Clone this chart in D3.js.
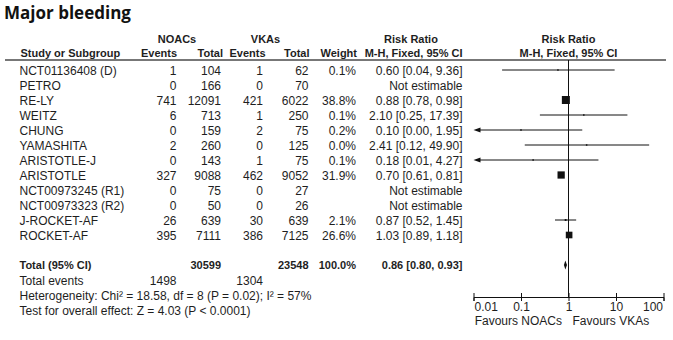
<!DOCTYPE html>
<html>
<head>
<meta charset="utf-8">
<script src="https://cdn.jsdelivr.net/npm/d3@7"></script>
<style>
    body { margin: 0; background: #fff; }
    svg text { font-family: "Liberation Sans", Arial, sans-serif; font-size: 12px; fill: #1e1e1e; }
    .bold { font-weight: bold; font-size: 11px; }
    .title { font-family: "Open Sans", sans-serif; font-size: 17px; font-weight: bold; fill: #111; }
</style>
</head>
<body>
<div id="forest"></div>
<script>
// study level data, NOACs vs VKAs, major bleeding
const studies = ["NCT01136408 (D)", "PETRO", "RE-LY", "WEITZ", "CHUNG", "YAMASHITA",
    "ARISTOTLE-J", "ARISTOTLE", "NCT00973245 (R1)", "NCT00973323 (R2)", "J-ROCKET-AF", "ROCKET-AF"];
const noacEvents = [1, 0, 741, 6, 0, 2, 0, 327, 0, 0, 26, 395];
const noacTotals = [104, 166, 12091, 713, 159, 260, 143, 9088, 75, 50, 639, 7111];
const vkaEvents = [1, 0, 421, 1, 2, 0, 1, 462, 0, 0, 30, 386];
const vkaTotals = [62, 70, 6022, 250, 75, 125, 75, 9052, 27, 26, 639, 7125];
const weights = [0.1, null, 38.8, 0.1, 0.2, 0.0, 0.1, 31.9, null, null, 2.1, 26.6];
const ratios = [0.60, null, 0.88, 2.10, 0.10, 2.41, 0.18, 0.70, null, null, 0.87, 1.03];
const lower = [0.04, null, 0.78, 0.25, 0.00, 0.12, 0.01, 0.61, null, null, 0.52, 0.89];
const upper = [9.36, null, 0.98, 17.39, 1.95, 49.90, 4.27, 0.81, null, null, 1.45, 1.18];

// pooled result
const totalNoac = 30599, totalVka = 23548;
const eventsNoac = 1498, eventsVka = 1304;
const pooled = {rr: 0.86, lo: 0.80, hi: 0.93, weight: 100.0};

const axisTicks = [0.01, 0.1, 1, 10, 100];
const tickLabels = ["0.01", "0.1", "1", "10", "100"];

const width = 673, height = 340;
const rowTop = 70.5, rowStep = 15;
const rowY = i => rowTop + i * rowStep;
const axisY = 297;

// right edges of the numeric columns
const col = {name: 19.5, nEv: 176.5, nTot: 221, vEv: 263, vTot: 308.5, weight: 356, rr: 462.5};

const fmt2 = d3.format(".2f");
const fmt1 = d3.format(".1f");

const svg = d3.select("#forest")
    .append("svg")
        .attr("width", width)
        .attr("height", height);

function label(x, y, txt, anchor, cls) {
    return svg.append("text")
        .attr("x", x)
        .attr("y", y)
        .attr("dy", "0.36em")
        .attr("text-anchor", anchor || "end")
        .attr("class", cls || null)
        .text(txt);
}

svg.append("text")
    .attr("class", "title")
    .attr("x", 4)
    .attr("y", 18.5)
    .text("Major bleeding");

// column headers
label(177, 39, "NOACs", "middle", "bold");
label(265.5, 39, "VKAs", "middle", "bold");
label(411, 39, "Risk Ratio", "middle", "bold");
label(568.5, 39, "Risk Ratio", "middle", "bold");

label(col.name + 1, 53, "Study or Subgroup", "start", "bold");
label(col.nEv + 0.5, 53, "Events", "end", "bold");
label(col.nTot + 2, 53, "Total", "end", "bold");
label(col.vEv + 2.5, 53, "Events", "end", "bold");
label(col.vTot + 1, 53, "Total", "end", "bold");
label(col.weight + 1, 53, "Weight", "end", "bold");
label(col.rr, 53, "M-H, Fixed, 95% CI", "end", "bold");
label(568.5, 53, "M-H, Fixed, 95% CI", "middle", "bold");

svg.append("line")
    .attr("x1", 5).attr("x2", 666)
    .attr("y1", 60).attr("y2", 60)
    .attr("stroke", "#4a4a4a")
    .attr("stroke-width", 1.6);

// study rows
studies.forEach((s, i) => {
    const y = rowY(i);
    label(col.name, y, s, "start");
    label(col.nEv, y, noacEvents[i]);
    label(col.nTot, y, noacTotals[i]);
    label(col.vEv, y, vkaEvents[i]);
    label(col.vTot, y, vkaTotals[i]);
    if (weights[i] !== null) label(col.weight, y, fmt1(weights[i]) + "%");
    if (ratios[i] === null) {
        label(col.rr, y, "Not estimable");
    } else {
        label(col.rr, y, `${fmt2(ratios[i])} [${fmt2(lower[i])}, ${fmt2(upper[i])}]`);
    }
});

// totals
const totalY = rowY(13);
label(col.name, totalY, "Total (95% CI)", "start", "bold");
label(col.nTot, totalY, totalNoac, "end", "bold");
label(col.vTot, totalY, totalVka, "end", "bold");
label(col.weight, totalY, fmt1(pooled.weight) + "%", "end", "bold");
label(col.rr, totalY, `${fmt2(pooled.rr)} [${fmt2(pooled.lo)}, ${fmt2(pooled.hi)}]`, "end", "bold");

label(col.name, rowY(14), "Total events", "start");
label(col.nEv, rowY(14), eventsNoac);
label(col.vEv, rowY(14), eventsVka);
label(col.name, rowY(15), "Heterogeneity: Chi\u00b2 = 18.58, df = 8 (P = 0.02); I\u00b2 = 57%", "start");
label(col.name, rowY(16), "Test for overall effect: Z = 4.03 (P < 0.0001)", "start");

// forest plot
const x = d3.scaleLog().domain([0.01, 100]).range([473.5, 663.5]);
const side = d3.scaleSqrt().domain([0, 38.8]).range([0, 8]);

const plot = svg.append("g");

plot.append("line")
    .attr("x1", x(1)).attr("x2", x(1))
    .attr("y1", 60).attr("y2", axisY)
    .attr("stroke", "#111")
    .attr("stroke-width", 1);

const rows = studies.map((s, i) => ({i, rr: ratios[i], lo: lower[i], hi: upper[i], w: weights[i]}))
    .filter(d => d.rr !== null);

plot.selectAll(".ci")
    .data(rows)
    .enter().append("line")
    .attr("class", "ci")
    .attr("x1", d => d.lo <= 0.01 ? x(0.01) + 5 : x(d.lo))
    .attr("x2", d => x(Math.min(d.hi, 100)))
    .attr("y1", d => rowY(d.i) - 0.5)
    .attr("y2", d => rowY(d.i) - 0.5)
    .attr("stroke", "#111")
    .attr("stroke-width", 1);

// arrow heads where the interval runs off the scale
plot.selectAll(".arrow")
    .data(rows.filter(d => d.lo <= 0.01))
    .enter().append("path")
    .attr("class", "arrow")
    .attr("d", d => {
        const x0 = x(0.01), y = rowY(d.i) - 0.5;
        return `M${x0},${y} L${x0 + 7},${y - 2.5} L${x0 + 7},${y + 2.5} Z`;
    })
    .attr("fill", "#111");

plot.selectAll(".box")
    .data(rows)
    .enter().append("rect")
    .attr("class", "box")
    .attr("x", d => x(d.rr) - Math.max(side(d.w), 1.5) / 2)
    .attr("y", d => rowY(d.i) - 0.5 - Math.max(side(d.w), 1.5) / 2)
    .attr("width", d => Math.max(side(d.w), 1.5))
    .attr("height", d => Math.max(side(d.w), 1.5))
    .attr("fill", "#111");

// pooled diamond
plot.append("path")
    .attr("d", () => {
        const y = totalY - 0.5;
        return `M${x(pooled.lo)},${y} L${x(pooled.rr)},${y - 4.5} L${x(pooled.hi)},${y} L${x(pooled.rr)},${y + 4.5} Z`;
    })
    .attr("fill", "#111");

// axis with ticks on both sides of the line
const axis = d3.axisBottom(x)
    .tickValues(axisTicks)
    .tickFormat((d, i) => tickLabels[i])
    .tickSizeOuter(0)
    .tickSize(4)
    .tickPadding(1);

const gAxis = svg.append("g")
    .attr("transform", "translate(0," + axisY + ")")
    .call(axis);

gAxis.select(".domain").attr("stroke", "#111");
gAxis.selectAll(".tick line").attr("y1", -4).attr("stroke", "#111");
gAxis.selectAll(".tick text")
    .attr("font-family", null)
    .attr("font-size", null)
    .attr("fill", "#1e1e1e")
    .attr("text-anchor", (d, i) => i === 0 ? "start" : (i === axisTicks.length - 1 ? "end" : "middle"))
    .attr("dx", (d, i) => i === 0 ? "0.5" : (i === axisTicks.length - 1 ? "-1" : 0));

label(x(1) - 6.5, 321, "Favours NOACs", "end");
label(x(1) + 4, 321, "Favours VKAs", "start");
</script>
</body>
</html>
